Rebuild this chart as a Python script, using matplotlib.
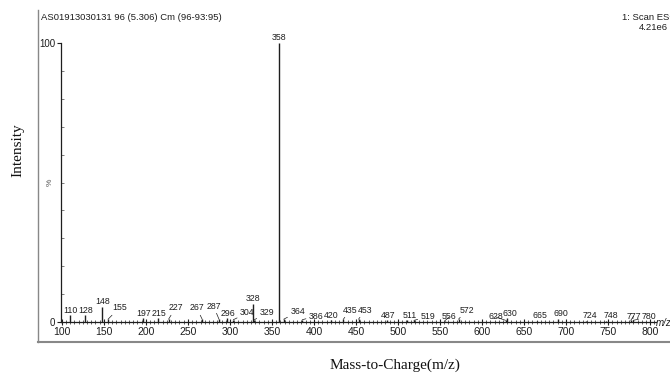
import numpy as np
import matplotlib
matplotlib.use("Agg")
from matplotlib import pyplot as plt
from matplotlib.ticker import MultipleLocator

# peak list (m/z, relative intensity %)
mz = [110, 128, 148, 155, 197, 215, 227, 267, 287, 296, 304, 328, 329, 358,
      364, 386, 420, 435, 453, 487, 511, 519, 556, 572, 628, 630, 665, 690,
      724, 748, 777, 780]
intensity = [2.5, 2.5, 5.4, 1.0, 1.4, 1.4, 1.0, 1.0, 1.0, 1.4, 0.8, 6.5, 0.8, 100,
             1.0, 0.8, 0.7, 1.0, 1.0, 0.7, 0.7, 0.6, 0.5, 1.0, 0.6, 1.4, 0.4, 1.1,
             0.4, 0.4, 0.6, 0.6]
x_ticks = [100, 150, 200, 250, 300, 350, 400, 450, 500, 550, 600, 650, 700, 750, 800]

# label offsets in points (dx, dy above the peak top); default (0, 3.6)
label_off = {155: (8, 8.1), 227: (5, 8.1), 267: (-4, 8.1), 287: (-4, 9.5),
             296: (1, 3.6), 304: (10, 4.9), 329: (9, 4.9), 364: (10, 5.2),
             386: (10, 2.7), 435: (5, 6.6), 453: (5, 6.6), 487: (1, 3.6),
             511: (2, 3.6), 519: (10, 2.5), 556: (3, 2.6), 572: (6, 6.6),
             628: (-7, 2.4), 630: (2, 3.6), 665: (2, 3.6), 690: (2, 3.6),
             724: (3, 3.6), 748: (3, 3.6), 777: (2, 3.0), 780: (11, 2.4)}
leaders = [155, 227, 267, 287, 304, 329, 364, 386, 435, 453, 519, 556, 572,
           628, 777, 780]

sans = ['Liberation Sans', 'DejaVu Sans']
serif = ['Liberation Serif', 'DejaVu Serif']
ink = '#1e1e1e'

fig = plt.figure(figsize=(6.7, 3.81), dpi=100)
ax = fig.add_axes([61 / 670, 1 - 322 / 381, (656 - 61) / 670, (322 - 43) / 381])

ax.vlines(mz, 0, intensity, color=ink, linewidth=1.0)

ax.set_xlim(99, 807)
ax.set_ylim(0, 100)
for s in ['top', 'right']:
    ax.spines[s].set_visible(False)
for s in ['left', 'bottom']:
    ax.spines[s].set_color(ink)
    ax.spines[s].set_linewidth(0.9)

ax.set_xticks(x_ticks)
ax.set_xticklabels([str(t) for t in x_ticks], family=sans, fontsize=7.5)
ax.xaxis.set_minor_locator(MultipleLocator(5))
ax.tick_params(axis='x', which='major', direction='inout', length=5, width=0.8,
               colors=ink, pad=1)
ax.tick_params(axis='x', which='minor', direction='inout', length=3, width=0.5,
               colors=ink)
ax.set_yticks([0, 100])
ax.set_yticklabels(['0', '100'], family=sans, fontsize=7)
ax.yaxis.set_minor_locator(MultipleLocator(10))
ax.tick_params(axis='y', which='major', direction='out', length=3, width=0.8,
               colors=ink, pad=1)
ax.tick_params(axis='y', which='minor', direction='in', length=2, width=0.6,
               colors='#666666')

# peak labels
for m, h in zip(mz, intensity):
    dx, dy = label_off.get(m, (0, 3.6))
    arrow = None
    if m in leaders:
        arrow = dict(arrowstyle='-', color=ink, lw=0.5, shrinkA=0, shrinkB=0)
    ax.annotate(str(m), xy=(m, h), xytext=(dx, dy), textcoords='offset points',
                ha='center', va='center', fontsize=6.3, family=sans, color=ink,
                arrowprops=arrow)

ax.text(-0.012, 0.5, '%', transform=ax.transAxes, rotation=90, ha='right',
        va='center', fontsize=6, family=sans, color='#555555')
ax.text(1.0, -0.005, 'm/z', transform=ax.transAxes, ha='left', va='center',
        fontsize=7, family=sans, color=ink, style='italic')

# outer frame of the scanned printout
fig.add_artist(plt.Line2D([38 / 670, 38 / 670], [1 - 342 / 381, 1 - 10 / 381],
                          color='#888888', linewidth=1.0))
fig.add_artist(plt.Line2D([38 / 670, 1.0], [1 - 342 / 381, 1 - 342 / 381],
                          color='#888888', linewidth=1.5))

fig.text(41 / 670, 1 - 18 / 381, 'AS01913030131 96 (5.306) Cm (96-93:95)',
         ha='left', va='center', fontsize=6.8, family=sans, color=ink)
fig.text(622 / 670, 1 - 17 / 381, '1: Scan ES+', ha='left', va='center',
         fontsize=6.8, family=sans, color=ink)
fig.text(639 / 670, 1 - 27 / 381, '4.21e6', ha='left', va='center',
         fontsize=6.8, family=sans, color=ink)

fig.text(18 / 670, 1 - 150 / 381, 'Intensity', rotation=90, ha='center',
         va='center', fontsize=11, family=serif, color='#111111')
fig.text(395 / 670, 1 - 365 / 381, 'Mass-to-Charge(m/z)', ha='center',
         va='center', fontsize=11, family=serif, color='#111111')

fig.savefig('out.png', dpi=100)
